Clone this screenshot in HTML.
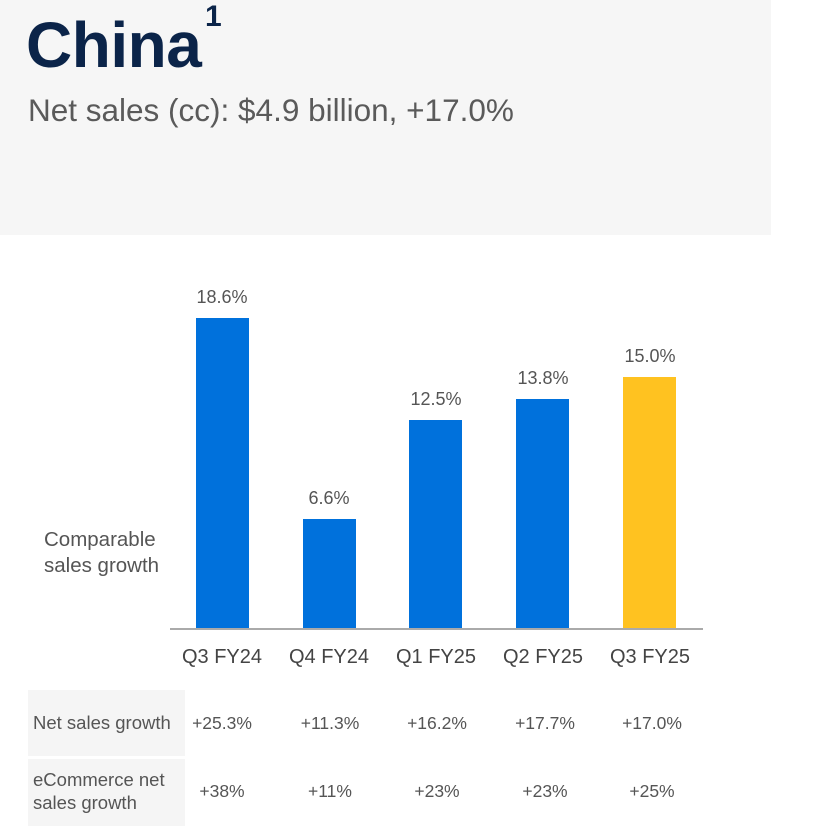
<!DOCTYPE html>
<html><head><meta charset="utf-8"><style>
body{margin:0;width:834px;height:829px;background:#fff;position:relative;overflow:hidden;font-family:"Liberation Sans",sans-serif;}
.a{position:absolute;white-space:nowrap;}
.hdr{position:absolute;left:0;top:0;width:771px;height:235px;background:#f6f6f6;}
.bar{position:absolute;width:53px;background:#0071dc;bottom:199px;}
.v{position:absolute;width:100px;text-align:center;font-size:18px;color:#555;}
.x{position:absolute;width:120px;text-align:center;font-size:20px;color:#444;top:646px;}
.c{position:absolute;width:100px;text-align:center;font-size:17.5px;color:#555;}
.box{position:absolute;left:28px;width:157px;background:#f5f5f5;}
</style></head><body>
<div class="hdr"></div>
<div class="a" style="left:26px;top:8px;font-size:64px;font-weight:bold;color:#0b2449;letter-spacing:-0.5px">China</div>
<div class="a" style="left:205px;top:0px;font-size:30px;font-weight:bold;color:#0b2449">1</div>
<div class="a" style="left:28px;top:92px;font-size:31.5px;color:#5a5a5a">Net sales (cc): $4.9 billion, +17.0%</div>

<div class="a" style="left:44px;top:527px;font-size:20.5px;color:#555;line-height:26px">Comparable<br>sales growth</div>

<div class="bar" style="left:196px;top:318px"></div>
<div class="bar" style="left:303px;top:519px"></div>
<div class="bar" style="left:409px;top:420px"></div>
<div class="bar" style="left:516px;top:399px"></div>
<div class="bar" style="left:623px;top:377px;background:#ffc220"></div>
<div class="a" style="left:170px;top:628px;width:533px;height:2px;background:#aaa"></div>

<div class="v" style="left:172px;top:287px">18.6%</div>
<div class="v" style="left:279px;top:488px">6.6%</div>
<div class="v" style="left:386px;top:389px">12.5%</div>
<div class="v" style="left:493px;top:368px">13.8%</div>
<div class="v" style="left:600px;top:346px">15.0%</div>

<div class="x" style="left:162px">Q3 FY24</div>
<div class="x" style="left:269px">Q4 FY24</div>
<div class="x" style="left:376px">Q1 FY25</div>
<div class="x" style="left:483px">Q2 FY25</div>
<div class="x" style="left:590px">Q3 FY25</div>

<div class="box" style="top:690px;height:66px"></div>
<div class="box" style="top:759px;height:67px"></div>
<div class="a" style="left:33px;top:712px;font-size:18.5px;color:#555">Net sales growth</div>
<div class="a" style="left:33px;top:768px;font-size:18.5px;color:#555;line-height:23px">eCommerce net<br>sales growth</div>

<div class="c" style="left:172px;top:713px">+25.3%</div>
<div class="c" style="left:280px;top:713px">+11.3%</div>
<div class="c" style="left:387px;top:713px">+16.2%</div>
<div class="c" style="left:495px;top:713px">+17.7%</div>
<div class="c" style="left:602px;top:713px">+17.0%</div>
<div class="c" style="left:172px;top:781px">+38%</div>
<div class="c" style="left:280px;top:781px">+11%</div>
<div class="c" style="left:387px;top:781px">+23%</div>
<div class="c" style="left:495px;top:781px">+23%</div>
<div class="c" style="left:602px;top:781px">+25%</div>
</body></html>
